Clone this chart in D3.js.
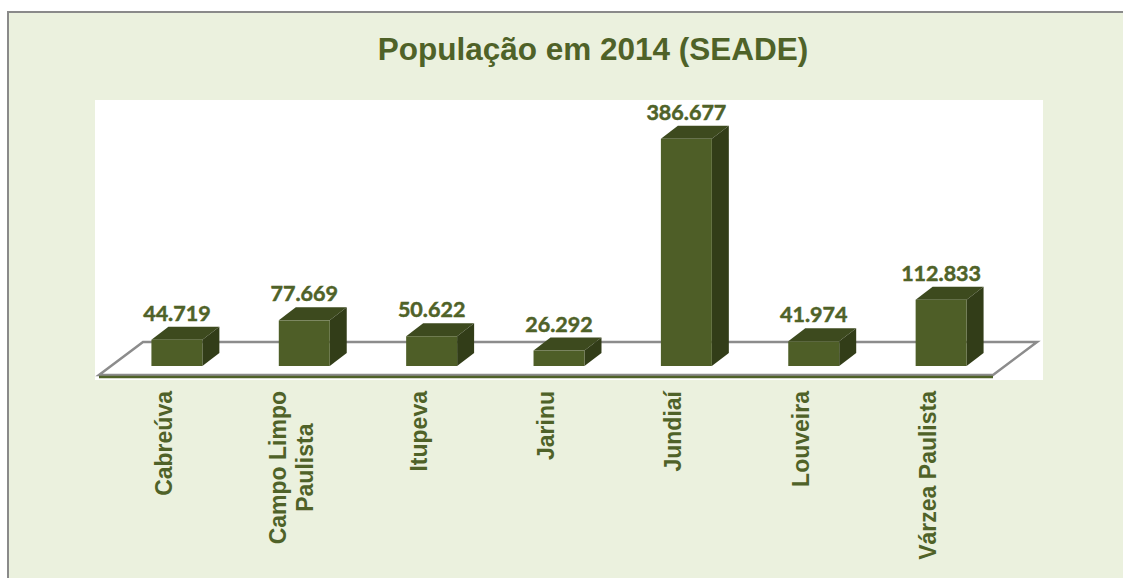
<!DOCTYPE html>
<html>
<head>
<meta charset="utf-8">
<script src="https://cdn.jsdelivr.net/npm/d3@7"></script>
<style>
  html, body { margin: 0; padding: 0; background: #fff; }
  svg { display: block; }
</style>
</head>
<body>
<svg id="chart" width="1123" height="578"></svg>
<script>
// Data
const cities = ["Cabreúva", "Campo Limpo Paulista", "Itupeva", "Jarinu", "Jundiaí", "Louveira", "Várzea Paulista"];
const cityLines = [["Cabreúva"], ["Campo Limpo", "Paulista"], ["Itupeva"], ["Jarinu"], ["Jundiaí"], ["Louveira"], ["Várzea Paulista"]];
const population = [44719, 77669, 50622, 26292, 386677, 41974, 112833];
const title = "População em 2014 (SEADE)";

const W = 1123, H = 578;
const green = "#4F6228";
const front = "#4E5E27", topC = "#3D4A1E", sideC = "#323D18";
const dx = 17, dy = -13;      // bar depth offset
const fdx = 44, fdy = -33;    // floor depth offset

const svg = d3.select("#chart");

// frame
svg.append("rect")
    .attr("x", 8).attr("y", 12)
    .attr("width", W + 20).attr("height", H + 20)
    .attr("fill", "#EBF1DE")
    .attr("stroke", "#8a8a8a")
    .attr("stroke-width", 2);

// plot area
svg.append("rect")
    .attr("x", 95).attr("y", 100)
    .attr("width", 948).attr("height", 280)
    .attr("fill", "#fff");

// title
svg.append("text")
    .attr("x", 593).attr("y", 60)
    .attr("text-anchor", "middle")
    .style("font-family", "'Liberation Sans', Arial, sans-serif")
    .style("font-weight", "bold")
    .style("font-size", "31.5px")
    .attr("fill", green)
    .text(title);

// scales
const x = d3.scaleBand()
    .domain(cities)
    .range([75, 1043])
    .paddingInner(0.6)
    .paddingOuter(0.6);

const y = d3.scaleLinear()
    .domain([0, 400000])
    .range([366, 131]);

const fmt = d3.formatLocale({ decimal: ",", thousands: ".", grouping: [3], currency: ["R$", ""] }).format(",d");

// floor
const fy = y(0) + 9;
const fx0 = 99, fx1 = 993;
svg.append("path")
    .attr("d", `M${fx0},${fy} L${fx0 + fdx},${fy + fdy} L${fx1 + fdx},${fy + fdy} L${fx1},${fy} Z`)
    .attr("fill", "#fff")
    .attr("stroke", "#8c8c8c")
    .attr("stroke-width", 2.5)
    .attr("stroke-linejoin", "miter");

// bars
const bars = svg.selectAll(".bar")
    .data(cities.map((c, i) => ({ city: c, value: population[i], lines: cityLines[i] })))
    .join("g")
    .attr("class", "bar");

const bw = x.bandwidth();

bars.append("path")   // top face
    .attr("d", d => {
        const x0 = x(d.city), yt = y(d.value);
        return `M${x0},${yt} L${x0 + dx},${yt + dy} L${x0 + bw + dx},${yt + dy} L${x0 + bw},${yt} Z`;
    })
    .attr("fill", topC);

bars.append("path")   // side face
    .attr("d", d => {
        const x1 = x(d.city) + bw, yt = y(d.value), yb = y(0);
        return `M${x1},${yt} L${x1 + dx},${yt + dy} L${x1 + dx},${yb + dy} L${x1},${yb} Z`;
    })
    .attr("fill", sideC);

bars.append("rect")   // front face
    .attr("x", d => x(d.city))
    .attr("y", d => y(d.value))
    .attr("width", bw)
    .attr("height", d => y(0) - y(d.value))
    .attr("fill", front);

// value labels
bars.append("text")
    .attr("x", d => x(d.city) + bw / 2)
    .attr("y", d => y(d.value) + dy - 6)
    .attr("text-anchor", "middle")
    .style("font-family", "Lato, 'Open Sans', sans-serif")
    .style("font-weight", "bold")
    .style("font-size", "21.5px")
    .attr("fill", green)
    .attr("stroke", green)
    .attr("stroke-width", 0.5)
    .text(d => fmt(d.value));

// axis line on floor front edge
svg.append("line")
    .attr("x1", fx0).attr("x2", fx1)
    .attr("y1", fy + 2).attr("y2", fy + 2)
    .attr("stroke", green)
    .attr("stroke-width", 2.5);

// category labels (rotated)
const lineH = 27;
const labels = svg.selectAll(".cat")
    .data(cities.map((c, i) => ({ city: c, lines: cityLines[i] })))
    .join("text")
    .attr("class", "cat")
    .attr("transform", d => `translate(${x(d.city) + bw / 2 - 13}, 391) rotate(-90)`)
    .attr("text-anchor", "end")
    .style("font-family", "'Liberation Sans', Arial, sans-serif")
    .style("font-weight", "bold")
    .style("font-size", "23px")
    .attr("fill", green);

labels.each(function (d) {
    const n = d.lines.length;
    const t = d3.select(this);
    const spans = t.selectAll("tspan").data(d.lines).join("tspan")
        .attr("y", (l, i) => (i - (n - 1) / 2) * lineH)
        .attr("dy", "0.35em")
        .text(l => l);
    if (n > 1) {
        // centre shorter lines against the longest one
        const lens = spans.nodes().map(s => s.getComputedTextLength());
        const maxL = d3.max(lens);
        spans.attr("x", (l, i) => -(maxL - lens[i]) / 2);
    } else {
        spans.attr("x", 0);
    }
});
</script>
</body>
</html>
